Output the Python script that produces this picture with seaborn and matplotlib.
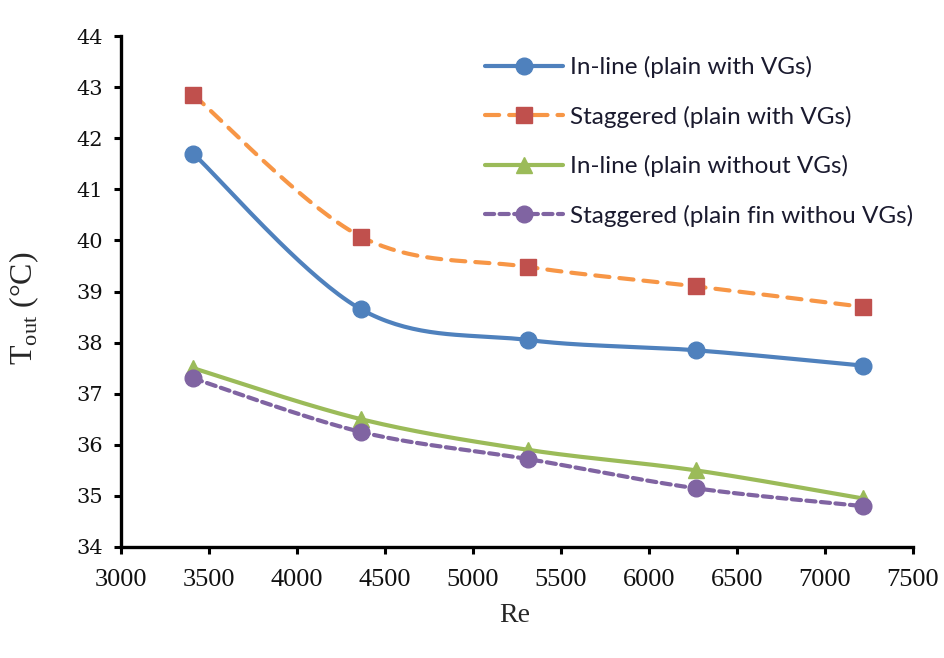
import numpy as np
import pandas as pd
import matplotlib
matplotlib.use('Agg')
import matplotlib.pyplot as plt
from matplotlib.lines import Line2D
import seaborn as sns

# values
re_values = [3410, 4365, 5315, 6265, 7215]
inline_vg = [41.70, 38.65, 38.05, 37.85, 37.55]
staggered_vg = [42.85, 40.07, 39.48, 39.10, 38.70]
inline_plain = [37.50, 36.50, 35.90, 35.50, 34.95]
staggered_plain = [37.30, 36.25, 35.72, 35.15, 34.80]

series_names = ['In-line (plain with VGs)', 'Staggered (plain with VGs)',
                'In-line (plain without VGs)', 'Staggered (plain fin withou VGs)']
x_ticks = list(range(3000, 7501, 500))
y_ticks = list(range(34, 45))


def smooth_curve(xs, ys, n=40):
    """Excel-like smoothed line: Catmull-Rom as cubic Bezier segments."""
    p = np.column_stack([xs, ys]).astype(float)
    p = np.vstack([p[0], p, p[-1]])
    t = np.linspace(0, 1, n)[:, None]
    out = []
    for i in range(1, len(p) - 2):
        p0, p3 = p[i], p[i + 1]
        c1 = p0 + (p[i + 1] - p[i - 1]) / 6.0
        c2 = p3 - (p[i + 2] - p[i]) / 6.0
        seg = ((1 - t) ** 3) * p0 + 3 * ((1 - t) ** 2) * t * c1 + 3 * (1 - t) * t ** 2 * c2 + t ** 3 * p3
        out.append(seg if i == 1 else seg[1:])
    out = np.vstack(out)
    return out[:, 0], out[:, 1]


sns.set_style('white')
plt.rcParams['font.family'] = ['Liberation Serif', 'DejaVu Serif']
plt.rcParams['mathtext.fontset'] = 'custom'
plt.rcParams['mathtext.rm'] = 'Liberation Serif'

fig = plt.figure(figsize=(9.45, 6.58), dpi=100)
ax = fig.add_axes([121 / 945, 1 - 547 / 658, (913 - 121) / 945, (547 - 36) / 658])

styles = [
    dict(line='#4F81BD', face='#4F81BD', marker='o', ms=12, dash=None),
    dict(line='#F79646', face='#C0504D', marker='s', ms=12, dash=(3.4, 2.4)),
    dict(line='#9BBB59', face='#9BBB59', marker='^', ms=12, dash=None),
    dict(line='#8064A2', face='#8064A2', marker='o', ms=12, dash=(2.2, 1.3)),
]
all_series = [inline_vg, staggered_vg, inline_plain, staggered_plain]

handles = []
for k, (vals, st, name) in enumerate(zip(all_series, styles, series_names)):
    cx, cy = smooth_curve(re_values, vals)
    curve = pd.DataFrame({'Re': cx, 'T': cy})
    sns.lineplot(data=curve, x='Re', y='T', ax=ax, sort=False, color=st['line'],
                 linewidth=3, zorder=2 + 2 * k, estimator=None)
    line = ax.lines[-1]
    if st['dash'] is not None:
        line.set_dashes(st['dash'])
        line.set_dash_capstyle('round')
    ax.plot(re_values, vals, linestyle='none', marker=st['marker'], markersize=st['ms'],
            markerfacecolor=st['face'], markeredgecolor=st['face'], zorder=3 + 2 * k)
    h = Line2D([0], [0], color=st['line'], linewidth=3, marker=st['marker'],
               markersize=st['ms'], markerfacecolor=st['face'], markeredgecolor=st['face'])
    if st['dash'] is not None:
        h.set_dashes(st['dash'])
        h.set_dash_capstyle('round')
    handles.append(h)

ax.set_xlim(3000, 7500)
ax.set_ylim(34, 44)
ax.set_xticks(x_ticks)
ax.set_yticks(y_ticks)
ax.set_xticklabels([str(v) for v in x_ticks], fontsize=19, family='Liberation Serif')
ax.set_yticklabels([str(v) for v in y_ticks], fontsize=15, family='DejaVu Serif')
ax.tick_params(axis='both', direction='out', length=5, width=2.2, color='black',
               left=True, bottom=True, labelcolor='#111111')
ax.tick_params(axis='x', pad=11)
ax.tick_params(axis='y', pad=8)
for side in ['top', 'right']:
    ax.spines[side].set_visible(False)
for side in ['left', 'bottom']:
    ax.spines[side].set_linewidth(2.4)
    ax.spines[side].set_color('black')

ax.set_xlabel('')
ax.set_ylabel('')
fig.text(515 / 945, 1 - 615 / 658, 'Re', fontsize=20, ha='center', va='center',
         family='Liberation Serif')
fig.text(24 / 945, 1 - 308 / 658, r'T$_{\mathrm{out}}$ (°C)', fontsize=23, rotation=90,
         ha='center', va='center', family='Liberation Serif')

leg = ax.legend(handles, series_names, loc='upper left',
                bbox_to_anchor=(485 / 945, 1 - 56 / 658), bbox_transform=fig.transFigure,
                frameon=False, numpoints=1, handlelength=3.2, handletextpad=0.3,
                labelspacing=1.13, borderpad=0, borderaxespad=0,
                prop={'family': 'Lato', 'size': 17.5})
for t in leg.get_texts():
    t.set_color('#1a1a2e')

fig.savefig('out.png', dpi=100, facecolor='white')
